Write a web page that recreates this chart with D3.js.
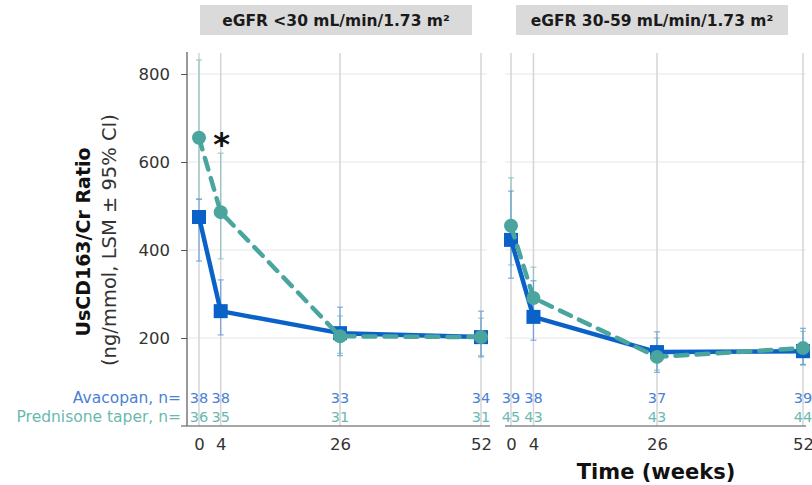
<!DOCTYPE html>
<html>
<head>
<meta charset="utf-8">
<script src="https://cdn.jsdelivr.net/npm/d3@7"></script>
<style>
body { margin: 0; background: #fff; }
svg { font-family: "Century Gothic", "DejaVu Sans", sans-serif; }
</style>
</head>
<body>
<svg id="chart" width="812" height="485"></svg>
<script>
// data
var weeks = [0, 4, 26, 52];
var panelTitles = ["eGFR <30 mL/min/1.73 m²", "eGFR 30-59 mL/min/1.73 m²"];
var yTicks = [200, 400, 600, 800];

// left panel (eGFR < 30)
var avaMeanL = [475, 261, 211, 202];
var avaLoL = [375, 207, 160, 157];
var avaHiL = [516, 332, 270, 261];
var predMeanL = [655, 486, 204, 202];
var predLoL = [515, 380, 165, 160];
var predHiL = [832, 620, 250, 245];
var avaNL = [38, 38, 33, 34];
var predNL = [36, 35, 31, 31];

// right panel (eGFR 30-59)
var avaMeanR = [423, 248, 168, 170];
var avaLoR = [336, 195, 122, 140];
var avaHiR = [534, 330, 214, 222];
var predMeanR = [455, 291, 157, 177];
var predLoR = [366, 240, 127, 138];
var predHiR = [564, 361, 200, 215];
var avaNR = [39, 38, 37, 39];
var predNR = [45, 43, 43, 44];

var blue = "#0a62c8", teal = "#4aa59f";
var blueTxt = "#4a80d6", tealTxt = "#6ab9b1";

var svg = d3.select("#chart");

var y = d3.scaleLinear().domain([0, 850]).range([426, 52]);

var panels = [
	{ title: panelTitles[0], x0: 199, x52: 481, left: 187, right: 487, box: [200, 472],
		ava: avaMeanL, avaLo: avaLoL, avaHi: avaHiL, pred: predMeanL, predLo: predLoL, predHi: predHiL,
		avaN: avaNL, predN: predNL },
	{ title: panelTitles[1], x0: 511, x52: 803, left: 505, right: 806, box: [516, 788],
		ava: avaMeanR, avaLo: avaLoR, avaHi: avaHiR, pred: predMeanR, predLo: predLoR, predHi: predHiR,
		avaN: avaNR, predN: predNR }
];

panels.forEach(function(p, pi){
	var x = d3.scaleLinear().domain([0, 52]).range([p.x0, p.x52]);
	var g = svg.append("g");

	// title box
	g.append("rect").attr("x", p.box[0]).attr("y", 5)
		.attr("width", p.box[1] - p.box[0]).attr("height", 30).attr("fill", "#dadada");
	g.append("text").attr("x", (p.box[0] + p.box[1]) / 2).attr("y", 26)
		.attr("text-anchor", "middle").attr("font-size", 15.5).attr("font-weight", "bold")
		.attr("fill", "#1a1a1a").text(p.title);

	// horizontal grid
	g.selectAll(".hg").data(yTicks).enter().append("line")
		.attr("x1", p.left).attr("x2", p.right)
		.attr("y1", function(d){ return y(d); }).attr("y2", function(d){ return y(d); })
		.attr("stroke", "#e6e6e6").attr("stroke-width", 1);

	// vertical grid
	g.selectAll(".vg").data(weeks).enter().append("line")
		.attr("x1", function(d){ return x(d); }).attr("x2", function(d){ return x(d); })
		.attr("y1", 53).attr("y2", 426)
		.attr("stroke", "#d4d4d4").attr("stroke-width", 1.5);

	// x axis
	var xAxis = g.append("g").attr("transform", "translate(0,426)")
		.call(d3.axisBottom(x).tickValues(weeks).tickSize(0).tickPadding(12));
	xAxis.select(".domain").remove();
	xAxis.selectAll("text").attr("font-size", 16.5).attr("fill", "#333")
		.attr("font-family", "\"Century Gothic\", \"DejaVu Sans\", sans-serif");
	g.append("line").attr("x1", pi == 0 ? 181 : 505).attr("x2", pi == 0 ? 490 : 806)
		.attr("y1", 426).attr("y2", 426).attr("stroke", "#888").attr("stroke-width", 1.5);

	// n counts
	g.selectAll(".na").data(p.avaN).enter().append("text")
		.attr("x", function(d, i){ return x(weeks[i]); }).attr("y", 403)
		.attr("text-anchor", "middle").attr("font-size", 14.5).attr("fill", blueTxt)
		.text(function(d){ return d; });
	g.selectAll(".np").data(p.predN).enter().append("text")
		.attr("x", function(d, i){ return x(weeks[i]); }).attr("y", 422)
		.attr("text-anchor", "middle").attr("font-size", 14.5).attr("fill", tealTxt)
		.text(function(d){ return d; });

	// error bars
	function errBars(lo, hi, col){
		var eb = g.append("g").attr("stroke", col).attr("stroke-width", 1.2).attr("opacity", 0.75);
		weeks.forEach(function(w, i){
			var cx = x(w);
			eb.append("line").attr("x1", cx).attr("x2", cx).attr("y1", y(lo[i])).attr("y2", y(hi[i]));
			eb.append("line").attr("x1", cx - 3).attr("x2", cx + 3).attr("y1", y(lo[i])).attr("y2", y(lo[i]));
			eb.append("line").attr("x1", cx - 3).attr("x2", cx + 3).attr("y1", y(hi[i])).attr("y2", y(hi[i]));
		});
	}
	errBars(p.predLo, p.predHi, "#7cc0bb");
	errBars(p.avaLo, p.avaHi, "#5a92d8");

	var line = d3.line()
		.x(function(d, i){ return x(weeks[i]); })
		.y(function(d){ return y(d); });

	// avacopan
	g.append("path").datum(p.ava).attr("fill", "none").attr("stroke", blue)
		.attr("stroke-width", 4.5).attr("stroke-linejoin", "round").attr("d", line);
	g.selectAll(".sq").data(p.ava).enter().append("rect")
		.attr("x", function(d, i){ return x(weeks[i]) - 7; })
		.attr("y", function(d){ return y(d) - 7; })
		.attr("width", 14).attr("height", 14).attr("fill", blue);

	// prednisone
	g.append("path").datum(p.pred).attr("fill", "none").attr("stroke", teal)
		.attr("stroke-width", 4.5).attr("stroke-dasharray", "12,9").attr("stroke-linecap", "round")
		.attr("d", line);
	g.selectAll(".ci").data(p.pred).enter().append("circle")
		.attr("cx", function(d, i){ return x(weeks[i]); })
		.attr("cy", function(d){ return y(d); })
		.attr("r", 7).attr("fill", teal);

	if(pi == 0){
		// y axis
		var yAxis = g.append("g").attr("transform", "translate(187,0)")
			.call(d3.axisLeft(y).tickValues(yTicks).tickSize(6).tickPadding(11).tickFormat(d3.format("d")));
		yAxis.select(".domain").attr("d", "M0,52V426").attr("stroke", "#777").attr("stroke-width", 1.5);
		yAxis.selectAll(".tick line").attr("stroke", "#555");
		yAxis.selectAll("text").attr("font-size", 16.5).attr("fill", "#333")
			.attr("font-family", "\"Century Gothic\", \"DejaVu Sans\", sans-serif");

		g.append("text").attr("x", x(4) + 1).attr("y", 155).attr("text-anchor", "middle")
			.attr("font-size", 32).attr("font-weight", "bold").attr("fill", "#111").text("*");

		g.append("text").attr("x", 181).attr("y", 403).attr("text-anchor", "end")
			.attr("font-size", 15.5).attr("fill", blueTxt).text("Avacopan, n=");
		g.append("text").attr("x", 181).attr("y", 422).attr("text-anchor", "end")
			.attr("font-size", 15.5).attr("fill", tealTxt).text("Prednisone taper, n=");
	}
});

// y label
svg.append("text").attr("transform", "translate(90,242) rotate(-90)")
	.attr("text-anchor", "middle").attr("font-size", 19).attr("font-weight", "bold")
	.attr("fill", "#111").text("UsCD163/Cr Ratio");
svg.append("text").attr("transform", "translate(116,240) rotate(-90)")
	.attr("text-anchor", "middle").attr("font-size", 19.5)
	.attr("fill", "#333").text("(ng/mmol, LSM ± 95% CI)");

// x label
svg.append("text").attr("x", 656).attr("y", 479).attr("text-anchor", "middle")
	.attr("font-size", 21).attr("font-weight", "bold").attr("fill", "#111").text("Time (weeks)");
</script>
</body>
</html>
